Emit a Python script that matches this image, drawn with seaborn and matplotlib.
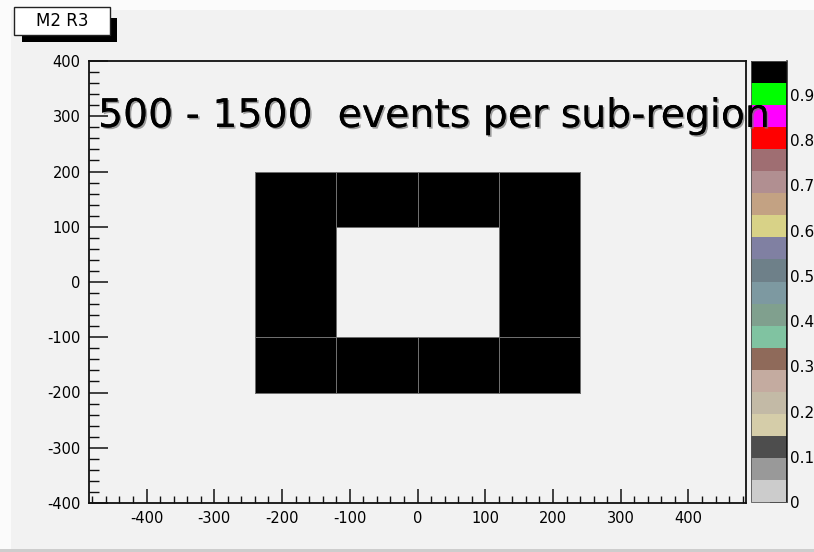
import numpy as np
import pandas as pd
import matplotlib
matplotlib.use("Agg")
import matplotlib.pyplot as plt
from matplotlib.colors import ListedColormap
from matplotlib.patches import Rectangle
from matplotlib import patheffects
import seaborn as sns

# ---- detector pads of the M2 R3 region (edges in mm, occupancy per pad) ----
bottom_x_edges = [-240, -120, 0, 120, 240]
bottom_y_edges = [-200, -100]
bottom_counts = [[1], [1], [1], [1]]

top_x_edges = [-120, 0, 120]
top_y_edges = [100, 200]
top_counts = [[1], [1]]

side_x_edges = [-240, -120, 120, 240]
side_y_edges = [-100, 200]
side_counts = [[1], [0], [1]]

z_max = 0.975
z_ticks = [0, 0.1, 0.2, 0.3, 0.4, 0.5, 0.6, 0.7, 0.8, 0.9]
z_labels = ["0", "0.1", "0.2", "0.3", "0.4", "0.5", "0.6", "0.7", "0.8", "0.9"]
x_ticks = [-400, -300, -200, -100, 0, 100, 200, 300, 400]
y_ticks = [-400, -300, -200, -100, 0, 100, 200, 300, 400]
x_range = (-485, 485)
y_range = (-400, 400)

# ROOT-like 20 colour palette, low to high
palette = ["#cccccc", "#999999", "#4d4d4d", "#d5cda9", "#c3baa6", "#c4aba0",
           "#8f6a5a", "#80c3a1", "#80a08e", "#7d99a1", "#6e8089", "#8080a2",
           "#d8d287", "#c3a283", "#b18f91", "#9f6e72", "#ff0000", "#ff00ff",
           "#00ff00", "#000000"]

title = "M2 R3"
note = "500 - 1500  events per sub-region"

W, H = 814, 552
bg = "#f2f2f2"

sns.set_style("ticks")
plt.rcParams["font.family"] = ["DejaVu Sans"]
plt.rcParams["axes.unicode_minus"] = False

fig = plt.figure(figsize=(W / 100, H / 100), dpi=100, facecolor=bg)


def px(x0, y0, x1, y1):
    """pixel box (top-left origin) -> figure fraction rect"""
    return [x0 / W, 1 - y1 / H, (x1 - x0) / W, (y1 - y0) / H]


# canvas bevel
fig.patches.append(Rectangle((0, 1 - 10 / H), 1, 10 / H, transform=fig.transFigure,
                             facecolor="#fbfbfb", edgecolor="none", zorder=0))
fig.patches.append(Rectangle((0, 0), 11 / W, 1, transform=fig.transFigure,
                             facecolor="#fbfbfb", edgecolor="none", zorder=0))
fig.patches.append(Rectangle((0, 0), 1, 3 / H, transform=fig.transFigure,
                             facecolor="#cdcdcd", edgecolor="none", zorder=0))

ax = fig.add_axes(px(89, 61, 746, 503))
ax.set_facecolor(bg)
cax = fig.add_axes(px(751, 61, 787, 502))

cmap = ListedColormap(palette).with_extremes(over="#000000")


def pad_table(xe, ye, counts):
    rows = []
    for i in range(len(xe) - 1):
        for j in range(len(ye) - 1):
            rows.append(dict(x=(xe[i] + xe[i + 1]) / 2, y=(ye[j] + ye[j + 1]) / 2,
                             w=counts[i][j]))
    return pd.DataFrame(rows)


groups = [(bottom_x_edges, bottom_y_edges, bottom_counts),
          (top_x_edges, top_y_edges, top_counts),
          (side_x_edges, side_y_edges, side_counts)]
for k, (xe, ye, cnt) in enumerate(groups):
    sns.histplot(data=pad_table(xe, ye, cnt), x="x", y="y", weights="w",
                 bins=[xe, ye], cmap=cmap, vmin=0, vmax=z_max,
                 cbar=(k == 0), cbar_ax=cax if k == 0 else None, ax=ax,
                 edgecolor="#6e6e6e", linewidth=0.7)

ax.set_xlim(*x_range)
ax.set_ylim(*y_range)
ax.set_xlabel("")
ax.set_ylabel("")
ax.set_xticks(x_ticks)
ax.set_xticklabels([str(v) for v in x_ticks])
ax.set_yticks(y_ticks)
ax.set_yticklabels([str(v) for v in y_ticks])
ax.set_xticks(np.arange(-480, 481, 20), minor=True)
ax.set_yticks(np.arange(-400, 401, 20), minor=True)
for s in ax.spines.values():
    s.set_visible(True)
    s.set_linewidth(1.3)
    s.set_color("#111111")
ax.tick_params(axis="x", which="major", direction="in", length=10, width=1.1,
               pad=6, labelsize=10.5, top=False, color="#111111", labelcolor="black")
ax.tick_params(axis="x", which="minor", direction="in", length=5, width=1.0,
               top=False, color="#111111")
ax.tick_params(axis="y", which="major", direction="in", length=14, width=1.1,
               pad=6, labelsize=10.5, right=False, color="#111111", labelcolor="black")
ax.tick_params(axis="y", which="minor", direction="in", length=7, width=1.0,
               right=False, color="#111111")

# palette axis
cbar = ax.collections[0].colorbar
cbar.set_ticks(z_ticks)
cbar.set_ticklabels(z_labels)
cbar.outline.set_edgecolor("#555555")
cbar.outline.set_linewidth(0.6)
cax.tick_params(direction="in", length=12, width=1.2, labelsize=11, pad=2,
                right=True, left=False, color="#111111", labelcolor="black")
cax.minorticks_off()
cax.plot([1, 1], [0, 1], transform=cax.transAxes, color="#111111", lw=1.3,
         clip_on=False)

# title box with drop shadow
fig.patches.append(Rectangle(px(22, 18, 117, 42)[:2], 95 / W, 24 / H,
                             transform=fig.transFigure, facecolor="black",
                             edgecolor="none", zorder=5))
fig.patches.append(Rectangle(px(14, 7, 110, 35)[:2], 96 / W, 28 / H,
                             transform=fig.transFigure, facecolor="white",
                             edgecolor="#222222", lw=1.0, zorder=6))
fig.text(62 / W, 1 - 21 / H, title, ha="center", va="center", fontsize=12,
         color="black", zorder=7)

# annotation, sized to its span
t = fig.text(98 / W, 1 - 127 / H, note, ha="left", va="baseline", fontsize=25,
             color="black", zorder=10, family=["DejaVu Sans"],
             path_effects=[patheffects.withSimplePatchShadow(offset=(1.2, -1.2),
                                                            shadow_rgbFace="#777777",
                                                            alpha=0.7),
                           patheffects.Normal()])
fig.canvas.draw()
bb = t.get_window_extent()
t.set_fontsize(25 * (770 - 98) / bb.width)

fig.savefig("out.png", dpi=100, facecolor=bg)
